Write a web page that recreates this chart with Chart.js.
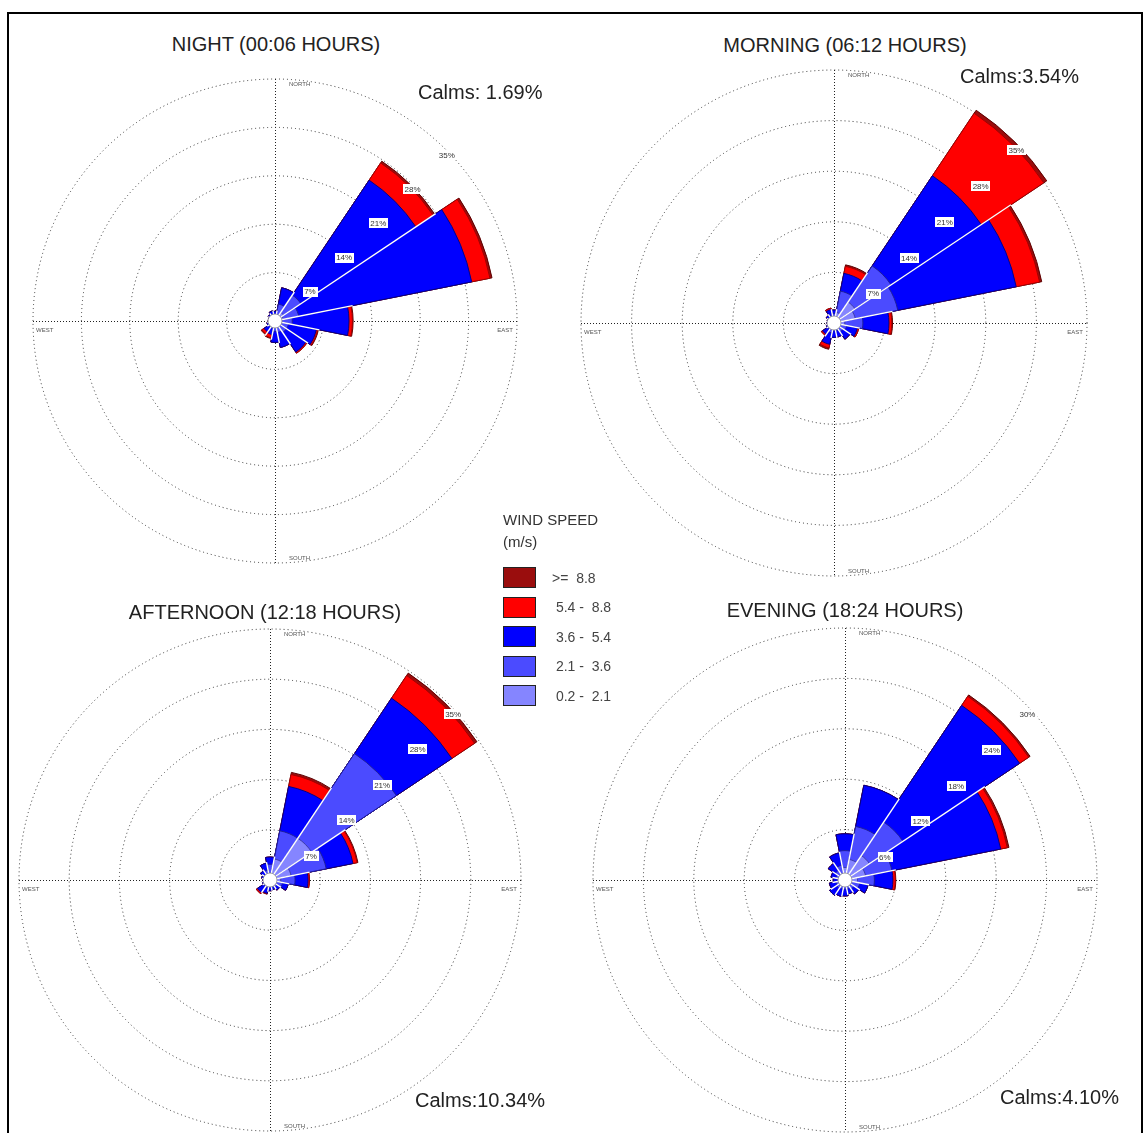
<!DOCTYPE html>
<html>
<head>
<meta charset="utf-8">
<title>Wind roses by time of day</title>
<script src="https://cdn.jsdelivr.net/npm/chart.js@4.4.1/dist/chart.umd.min.js"></script>
<style>
  html, body { margin: 0; padding: 0; background: #fff; }
  .page {
    position: relative;
    width: 1145px;
    height: 1133px;
    overflow: hidden;
    font-family: Arial, "Liberation Sans", sans-serif;
    color: #222;
  }
  .frame {
    position: absolute;
    left: 7px;
    top: 12px;
    width: 1136px;
    height: 1140px;
    border: 2px solid #000;
    box-sizing: border-box;
  }
  .rose { position: absolute; }
  .title, .calms { position: absolute; white-space: nowrap; font-size: 20px; }
  .title { transform: translate(-50%, -50%); }
  .calms { transform: translateY(-50%); }
  .legend { position: absolute; left: 503px; top: 509px; font-size: 14px; color: #444; }
  .legend__head { font-size: 15px; line-height: 22px; color: #333; }
  .legend__row { display: flex; align-items: center; height: 29.5px; }
  .legend__box { width: 31px; height: 19px; border: 1px solid #222; margin-right: 16px; }
</style>
</head>
<body>
<div class="page">
  <div class="frame"></div>
</div>

<script>
(function() {

    // 16 compass sectors, clockwise from north
    let directions = ['N', 'NNE', 'NE', 'ENE', 'E', 'ESE', 'SE', 'SSE',
                      'S', 'SSW', 'SW', 'WSW', 'W', 'WNW', 'NW', 'NNW'];

    // wind speed classes (m/s), legend order
    let speedClasses = ['>=  8.8', '5.4 -  8.8', '3.6 -  5.4', '2.1 -  3.6', '0.2 -  2.1'];
    let classColors = ['#9a0d0d', '#ff0000', '#0000ff', '#4b4bff', '#8585ff'];
    let classBorders = ['#5a0000', '#a00000', '#00008a', '#1e1e9a', '#3c3caa'];

    // frequency (%) per sector for each speed class
    // NIGHT (00:06 HOURS)
    let night02 = [0.5, 1.0, 1.5, 1.2, 1.0, 0.8, 0.8, 0.7, 0.6, 0.5, 0.5, 0.4, 0.4, 0.4, 0.4, 0.5];
    let night21 = [0.5, 1.5, 3.0, 2.3, 1.5, 1.2, 1.2, 1.0, 0.9, 0.6, 0.6, 0.4, 0.3, 0.3, 0.4, 0.5];
    let night36 = [0.4, 2.4, 20.0, 25.5, 8.2, 4.1, 3.4, 2.2, 1.6, 0.9, 0.8, 0.4, 0.3, 0.3, 0.4, 0.5];
    let night54 = [0, 0, 3.0, 2.7, 0.5, 0.2, 0.2, 0, 0, 0.5, 0.4, 0, 0, 0, 0, 0];
    let night88 = [0, 0, 0.3, 0.3, 0.1, 0.1, 0, 0, 0, 0.1, 0.1, 0, 0, 0, 0, 0];

    // MORNING (06:12 HOURS)
    let morning02 = [0.6, 1.5, 3.5, 3.0, 1.5, 0.8, 0.7, 0.5, 0.5, 0.5, 0.5, 0.4, 0.4, 0.4, 0.4, 0.5];
    let morning21 = [0.7, 3.0, 6.0, 6.0, 2.5, 1.0, 0.8, 0.6, 0.6, 0.9, 0.6, 0.4, 0.3, 0.3, 0.4, 0.6];
    let morning36 = [0.5, 2.5, 15.0, 16.7, 3.6, 1.5, 1.2, 0.9, 0.9, 1.6, 0.8, 0.3, 0.3, 0.3, 0.5, 0.8];
    let morning54 = [0, 1.0, 10.4, 3.3, 0.4, 0.2, 0, 0, 0, 0.5, 0.2, 0, 0, 0, 0, 0.2];
    let morning88 = [0, 0.2, 0.5, 0.3, 0.1, 0, 0, 0, 0, 0.2, 0, 0, 0, 0, 0, 0];

    // AFTERNOON (12:18 HOURS)
    let afternoon02 = [1.0, 3.0, 7.0, 3.0, 1.5, 0.8, 0.6, 0.5, 0.5, 0.5, 0.5, 0.4, 0.4, 0.4, 0.5, 0.6];
    let afternoon21 = [1.2, 4.0, 14.2, 5.0, 2.0, 1.0, 0.6, 0.5, 0.5, 0.6, 0.6, 0.4, 0.3, 0.4, 0.5, 0.8];
    let afternoon36 = [1.0, 6.3, 9.3, 3.8, 1.8, 0.8, 0.5, 0.4, 0.5, 0.8, 1.0, 0.3, 0.3, 0.4, 0.6, 1.0];
    let afternoon54 = [0, 1.7, 3.8, 0.6, 0.2, 0, 0, 0, 0, 0.1, 0.2, 0, 0, 0, 0, 0];
    let afternoon88 = [0, 0.3, 0.4, 0.1, 0, 0, 0, 0, 0, 0, 0, 0, 0, 0, 0, 0];

    // EVENING (18:24 HOURS)
    let evening02 = [1.5, 2.5, 3.5, 2.5, 1.5, 0.8, 0.6, 0.5, 0.5, 0.5, 0.5, 0.5, 0.4, 0.5, 0.6, 0.8];
    let evening21 = [2.0, 4.0, 4.8, 3.2, 2.0, 1.0, 0.7, 0.6, 0.6, 0.6, 0.7, 0.6, 0.5, 0.6, 0.8, 1.0];
    let evening36 = [2.0, 5.0, 16.7, 13.2, 2.2, 1.0, 0.7, 0.6, 0.8, 0.9, 1.0, 0.8, 0.5, 0.6, 1.0, 1.5];
    let evening54 = [0, 0, 1.3, 0.8, 0.3, 0, 0, 0, 0, 0, 0, 0, 0, 0, 0, 0];
    let evening88 = [0, 0, 0.2, 0.2, 0.05, 0, 0, 0, 0, 0, 0, 0, 0, 0, 0, 0];

    let titles = ['NIGHT (00:06 HOURS)', 'MORNING (06:12 HOURS)', 'AFTERNOON (12:18 HOURS)', 'EVENING (18:24 HOURS)'];
    let calms = ['Calms: 1.69%', 'Calms:3.54%', 'Calms:10.34%', 'Calms:4.10%'];
    let ringSteps = [7, 7, 7, 6];

    /**
     * Where each rose sits on the page
     */
    let layout = [
        { cx: 275, cy: 321, r: 242, title: [276, 44], calms: [418, 92], label: { angle: 45, inset: 3, off: 4 } },
        { cx: 834, cy: 323, r: 253, title: [845, 45], calms: [960, 76], label: { angle: 45, inset: 2, off: 7 } },
        { cx: 270, cy: 880, r: 251, title: [265, 612], calms: [415, 1100], label: { angle: 45, inset: 4, off: 12 } },
        { cx: 845, cy: 880, r: 252, title: [845, 610], calms: [1000, 1097], label: { angle: 45, inset: 6, off: 12 } }
    ];

    let PAD = 10;

    let page = document.querySelector('.page');

    /**
     * Axes, compass words, petal separators, calm circle and ring labels
     */
    let roseDecor = {
        id: 'roseDecor',
        beforeDatasetsDraw(chart) {
            let s = chart.scales.r;
            let ctx = chart.ctx;
            let R = s.drawingArea, x = s.xCenter, y = s.yCenter;

            ctx.save();
            ctx.strokeStyle = '#222';
            ctx.lineWidth = 1;
            ctx.setLineDash([1, 2]);
            ctx.beginPath();
            ctx.moveTo(x - R, y + 0.5);
            ctx.lineTo(x + R, y + 0.5);
            ctx.moveTo(x + 0.5, y - R);
            ctx.lineTo(x + 0.5, y + R);
            ctx.stroke();

            ctx.fillStyle = '#555';
            ctx.font = '6px Arial, "Liberation Sans", sans-serif';
            ctx.textBaseline = 'middle';
            ctx.textAlign = 'left';
            ctx.fillText('NORTH', x + 14, y - R + 5);
            ctx.fillText('SOUTH', x + 14, y + R - 5);
            ctx.fillText('WEST', x - R + 3, y + 9);
            ctx.textAlign = 'right';
            ctx.fillText('EAST', x + R - 4, y + 9);
            ctx.restore();
        },
        afterDatasetsDraw(chart, args, opts) {
            let s = chart.scales.r;
            let ctx = chart.ctx;
            let x = s.xCenter, y = s.yCenter;

            // thin white gaps between neighbouring petals
            let outer = chart.getDatasetMeta(chart.data.datasets.length - 1).data;
            ctx.save();
            ctx.strokeStyle = '#fff';
            ctx.lineWidth = 1.4;
            outer.forEach((arc, i) => {
                let next = outer[(i + 1) % outer.length];
                let len = Math.min(arc.outerRadius, next.outerRadius) + 1;
                let ang = arc.endAngle;
                ctx.beginPath();
                ctx.moveTo(x, y);
                ctx.lineTo(x + len * Math.cos(ang), y + len * Math.sin(ang));
                ctx.stroke();
            });

            ctx.beginPath();
            ctx.arc(x, y, 7, 0, Math.PI * 2);
            ctx.fillStyle = '#fff';
            ctx.fill();
            ctx.strokeStyle = '#666';
            ctx.lineWidth = 0.6;
            ctx.stroke();

            let a = opts.angle * Math.PI / 180;
            ctx.font = '8px Arial, "Liberation Sans", sans-serif';
            ctx.textAlign = 'center';
            ctx.textBaseline = 'middle';
            s.ticks.forEach(tick => {
                if (tick.value <= 0) return;
                let d = s.getDistanceFromCenterForValue(tick.value) - opts.inset;
                let px = x + d * Math.sin(a) + opts.off * Math.cos(a);
                let py = y - d * Math.cos(a) + opts.off * Math.sin(a);
                let text = tick.value + '%';
                let w = ctx.measureText(text).width + 3;
                ctx.fillStyle = '#fff';
                ctx.fillRect(Math.round(px - w / 2), Math.round(py - 5), Math.round(w), 10);
                ctx.fillStyle = '#333';
                ctx.fillText(text, px, py + 0.5);
            });
            ctx.restore();
        }
    };

    /**
     * Stacks the speed classes: every dataset holds the running total,
     * lightest on top so the darker ones show as outer bands
     */
    let buildDatasets = classes => {
        let running = directions.map(() => 0);
        let sums = classes.map(values => {
            running = running.map((v, i) => v + values[i]);
            return running.slice();
        });
        // classes come lightest first, colours are listed darkest first
        return sums.map((data, k) => ({
            data,
            backgroundColor: classColors[classColors.length - 1 - k],
            borderColor: classBorders[classBorders.length - 1 - k],
            borderWidth: 1,
            clip: false
        }));
    };

    let addText = (cls, text, left, top) => {
        let el = document.createElement('div');
        el.className = cls;
        el.textContent = text;
        el.style.left = left + 'px';
        el.style.top = top + 'px';
        page.appendChild(el);
    };

    let makeRose = (index, classes) => {
        let L = layout[index];
        let step = ringSteps[index];
        let size = 2 * (L.r + PAD);

        let canvas = document.createElement('canvas');
        canvas.className = 'rose';
        canvas.width = size;
        canvas.height = size;
        canvas.style.left = (L.cx - L.r - PAD) + 'px';
        canvas.style.top = (L.cy - L.r - PAD) + 'px';
        page.appendChild(canvas);

        new Chart(canvas, {
            type: 'polarArea',
            data: {
                labels: directions,
                datasets: buildDatasets(classes)
            },
            options: {
                responsive: false,
                animation: false,
                layout: { padding: PAD },
                scales: {
                    r: {
                        min: 0,
                        max: step * 5,
                        startAngle: -11.25,
                        ticks: { display: false, stepSize: step },
                        grid: { circular: true, color: '#333', lineWidth: 1 },
                        border: { dash: [1, 3] },
                        angleLines: { display: false },
                        pointLabels: { display: false }
                    }
                },
                plugins: {
                    legend: { display: false },
                    tooltip: { enabled: false },
                    roseDecor: L.label
                }
            },
            plugins: [roseDecor]
        });

        addText('title', titles[index], L.title[0], L.title[1]);
        addText('calms', calms[index], L.calms[0], L.calms[1]);
    };

    let makeLegend = () => {
        let box = document.createElement('div');
        box.className = 'legend';
        let head = document.createElement('div');
        head.className = 'legend__head';
        head.innerHTML = 'WIND SPEED<br>(m/s)';
        box.appendChild(head);
        let gap = document.createElement('div');
        gap.style.height = '10px';
        box.appendChild(gap);

        speedClasses.forEach((label, i) => {
            let row = document.createElement('div');
            row.className = 'legend__row';
            let sw = document.createElement('div');
            sw.className = 'legend__box';
            sw.style.background = classColors[i];
            let txt = document.createElement('span');
            txt.style.whiteSpace = 'pre';
            txt.textContent = (i === 0 ? '' : ' ') + label;
            row.appendChild(sw);
            row.appendChild(txt);
            box.appendChild(row);
        });
        page.appendChild(box);
    };

    let init = () => {
        makeRose(0, [night02, night21, night36, night54, night88]);
        makeRose(1, [morning02, morning21, morning36, morning54, morning88]);
        makeRose(2, [afternoon02, afternoon21, afternoon36, afternoon54, afternoon88]);
        makeRose(3, [evening02, evening21, evening36, evening54, evening88]);
        makeLegend();
    };

    init();

})()
</script>
</body>
</html>
